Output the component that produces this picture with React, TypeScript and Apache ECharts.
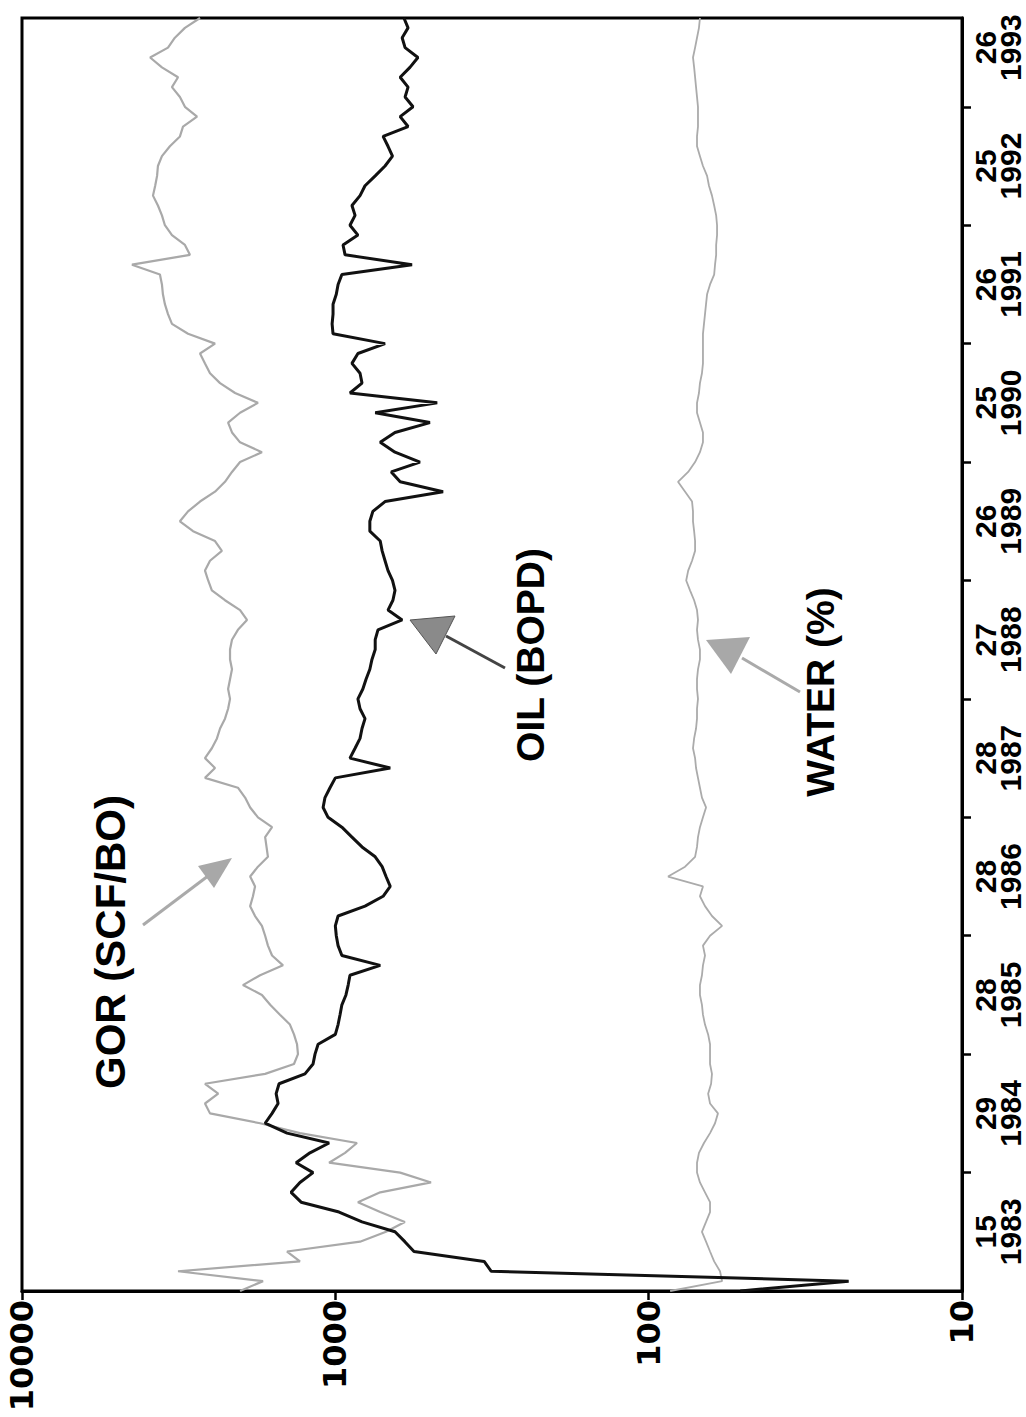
import React, { useEffect, useRef } from "react";
import * as echarts from "echarts";

// ---- data ----
const START_YEAR = 1983; // first monthly sample: Jan 1983
const years = [1983, 1984, 1985, 1986, 1987, 1988, 1989, 1990, 1991, 1992, 1993];
const wells = [15, 29, 28, 28, 28, 27, 26, 25, 26, 25, 26];
const logTicks = [10, 100, 1000, 10000];

// monthly values, Jan 1983 .. Oct 1993
const oil = [
  51, 23, 318, 335, 561, 600, 645, 822, 973, 1286, 1384, 1297,
  1178, 1334, 1205, 1047, 1426, 1675, 1592, 1523, 1545, 1512, 1250, 1178,
  1161, 1135, 1000, 980, 966, 953, 925, 910, 898, 719, 953, 980,
  993, 1000, 980, 804, 704, 668, 689, 709, 746, 822, 885, 953,
  1055, 1094, 1079, 1040, 1000, 668, 898, 865, 834, 822, 804, 834,
  847, 817, 798, 776, 764, 746, 746, 731, 612, 679, 655, 645,
  657, 679, 694, 709, 719, 776, 776, 759, 694, 453, 621, 663,
  537, 645, 719, 645, 499, 746, 473, 898, 822, 834, 885, 847,
  694, 1017, 1024, 1017, 1017, 993, 980, 953, 569, 931, 945, 847,
  898, 865, 885, 834, 804, 746, 694, 657, 679, 704, 586, 621,
  565, 599, 586, 621, 578, 545, 599, 612, 586, 604,
];
const gor = [
  2014, 1701, 3177, 1297, 1426, 834, 689, 600, 719, 847, 719, 495,
  621, 1047, 931, 853, 1297, 1738, 2512, 2606, 2365, 2606, 1675, 1355,
  1316, 1325, 1355, 1396, 1502, 1614, 1715, 1972, 1738, 1469, 1592, 1641,
  1675, 1715, 1804, 1870, 1832, 1804, 1870, 1766, 1641, 1658, 1675, 1592,
  1766, 1870, 1941, 2046, 2606, 2421, 2606, 2478, 2387, 2333, 2250, 2199,
  2168, 2199, 2168, 2137, 2168, 2168, 2137, 2046, 1914, 2014, 2250, 2478,
  2546, 2606, 2512, 2302, 2421, 2845, 3133, 2952, 2703, 2421, 2250, 2137,
  2014, 1715, 2014, 2137, 2199, 2014, 1766, 2089, 2333, 2512, 2606, 2703,
  2421, 2952, 3322, 3420, 3499, 3550, 3576, 3629, 4457, 2911, 3020, 3322,
  3499, 3576, 3683, 3819, 3758, 3706, 3683, 3576, 3373, 3133, 3063, 2763,
  3020, 3133, 3322, 3177, 3576, 3900, 3420, 3251, 3020, 2703,
];
const water = [
  85.4, 58.3, 59.2, 61.8, 63.7, 65.6, 67.6, 65.6, 63.7, 63.7, 66.1, 68.6,
  70.1, 70.1, 69.1, 66.6, 63.7, 61.4, 60.1, 63.7, 64.6, 63.2, 62.8, 63.7,
  63.7, 63.7, 64.6, 66.1, 67.1, 67.6, 68.6, 68.6, 67.6, 67.1, 66.1, 67.1,
  63.7, 58.3, 62.8, 66.1, 68.6, 67.1, 86.7, 76.5, 71.1, 70.1, 69.6, 68.6,
  67.1, 65.6, 67.6, 68.6, 69.6, 70.6, 71.1, 72.2, 71.6, 70.6, 70.1, 70.1,
  69.6, 70.1, 70.1, 69.6, 68.6, 68.6, 69.6, 70.1, 69.6, 70.1, 71.6, 73.8,
  75.9, 74.8, 72.7, 71.1, 71.1, 71.6, 72.2, 72.2, 72.7, 76.5, 80.6, 74.8,
  71.1, 68.6, 67.1, 67.1, 68.6, 70.1, 70.1, 69.1, 68.6, 67.6, 67.1, 67.1,
  67.1, 67.1, 66.6, 66.1, 65.6, 65.1, 63.7, 61.8, 61.4, 60.9, 60.9, 60.5,
  60.5, 60.9, 61.8, 62.8, 64.2, 65.1, 67.1, 68.6, 70.1, 70.1, 69.6, 69.6,
  69.6, 70.1, 70.6, 71.1, 71.6, 72.2, 71.1, 70.1, 69.1, 68.6,
];

const FONT = "Liberation Sans, Arial, Helvetica, sans-serif";
const WIDE_FONT = "DejaVu Sans, Liberation Sans, sans-serif";

const toPairs = (arr: number[]) => arr.map((v, i) => [v, START_YEAR + i / 12]);

export default function App() {
  const ref = useRef<HTMLDivElement>(null);

  useEffect(() => {
    if (!ref.current) return;
    const chart = echarts.init(ref.current, null, { renderer: "svg" });

    const yearTicks = years.slice(1);
    const yearLabelPos = years.map((y) => y + 0.5);

    const annot = (text: string, x: number, y: number, size: number) => ({
      type: "text",
      x,
      y,
      rotation: Math.PI / 2,
      z: 10,
      style: {
        text,
        fill: "#000",
        fontSize: size,
        fontWeight: "bold",
        fontFamily: FONT,
        align: "center",
        verticalAlign: "middle",
      },
    });

    const richStyle = {
      fontSize: 30,
      fontWeight: "bold",
      fontFamily: FONT,
      color: "#000",
      lineHeight: 25,
      align: "center",
    };

    const option: any = {
      animation: false,
      backgroundColor: "#fff",
      grid: {
        left: 22,
        right: 64,
        top: 18,
        bottom: 126,
        show: true,
        borderColor: "#000",
        borderWidth: 3,
        backgroundColor: "transparent",
      },
      xAxis: {
        type: "log",
        logBase: 10,
        min: logTicks[0],
        max: logTicks[logTicks.length - 1],
        inverse: true,
        position: "bottom",
        axisLine: { show: true, lineStyle: { color: "#000", width: 3 } },
        axisTick: { show: true, inside: false, length: 9, lineStyle: { color: "#000", width: 2.5 } },
        minorTick: { show: false },
        splitLine: { show: false },
        axisLabel: {
          rotate: 90,
          margin: 9,
          color: "#000",
          fontSize: 32,
          fontWeight: "bold",
          fontFamily: WIDE_FONT,
          formatter: (v: number) => String(Math.round(v)),
        },
      },
      yAxis: {
        type: "value",
        min: START_YEAR,
        max: 1993.75,
        position: "right",
        axisLine: { show: true, lineStyle: { color: "#000", width: 3 } },
        axisTick: {
          show: true,
          inside: false,
          length: 9,
          customValues: yearTicks,
          lineStyle: { color: "#000", width: 2.5 },
        },
        splitLine: { show: false },
        axisLabel: {
          customValues: yearLabelPos,
          rotate: 90,
          margin: 11,
          color: "#000",
          fontSize: 30,
          fontWeight: "bold",
          fontFamily: FONT,
          lineHeight: 25,
          overflow: "none",
          formatter: (v: number) => {
            const y = Math.floor(v);
            const idx = years.indexOf(y);
            return idx >= 0 ? `{n|${wells[idx]}}\n{y|${y}}` : "";
          },
          rich: { n: richStyle, y: richStyle },
        },
      },
      series: [
        {
          name: "GOR (SCF/BO)",
          type: "line",
          data: toPairs(gor),
          showSymbol: false,
          lineStyle: { color: "#a9a9a9", width: 2.2 },
          z: 2,
        },
        {
          name: "WATER (%)",
          type: "line",
          data: toPairs(water),
          showSymbol: false,
          lineStyle: { color: "#ababab", width: 1.8 },
          z: 2,
        },
        {
          name: "OIL (BOPD)",
          type: "line",
          data: toPairs(oil),
          showSymbol: false,
          lineStyle: { color: "#111", width: 3 },
          z: 3,
        },
      ],
      graphic: [
        annot("GOR (SCF/BO)", 110, 942, 42),
        annot("OIL (BOPD)", 530, 655, 39),
        annot("WATER (%)", 820, 692, 39),
        // GOR arrow
        { type: "line", shape: { x1: 143, y1: 925, x2: 208, y2: 876 }, style: { stroke: "#aaa", lineWidth: 3 } },
        { type: "polygon", shape: { points: [[232, 858], [214, 888], [198, 866]] }, style: { fill: "#a8a8a8" } },
        // OIL arrow
        { type: "line", shape: { x1: 505, y1: 668, x2: 446, y2: 636 }, style: { stroke: "#444", lineWidth: 3 } },
        { type: "polygon", shape: { points: [[410, 620], [455, 616], [436, 654]] }, style: { fill: "#8a8a8a", stroke: "#555", lineWidth: 1 } },
        // WATER arrow
        { type: "line", shape: { x1: 800, y1: 692, x2: 742, y2: 658 }, style: { stroke: "#aaa", lineWidth: 3 } },
        { type: "polygon", shape: { points: [[706, 640], [750, 637], [731, 674]] }, style: { fill: "#a8a8a8" } },
      ],
    };

    chart.setOption(option);
    return () => chart.dispose();
  }, []);

  return (
    <div
      ref={ref}
      style={{ position: "absolute", left: 0, top: 0, width: 1026, height: 1417, background: "#fff" }}
    />
  );
}
